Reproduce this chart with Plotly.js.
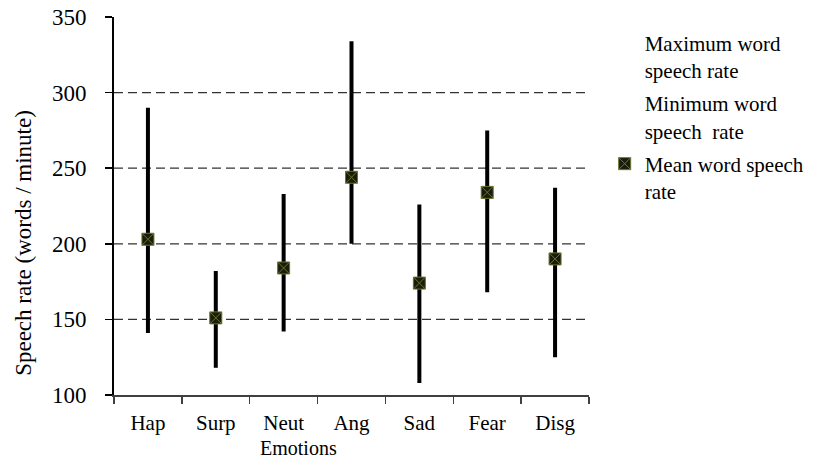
<!DOCTYPE html>
<html>
<head>
<meta charset="utf-8">
<script src="https://cdn.plot.ly/plotly-3.0.1.min.js"></script>
<style>
  html, body { margin: 0; padding: 0; background: #ffffff; }
  #chart { width: 822px; height: 460px; }
</style>
</head>
<body>
<div id="chart"></div>
<script>
// Word speech rate per emotion (words / minute)
const categories = ['Hap', 'Surp', 'Neut', 'Ang', 'Sad', 'Fear', 'Disg'];
const maxRate = [290, 182, 233, 334, 226, 275, 237];
const minRate = [141, 118, 142, 200, 108, 168, 125];
const meanRate = [203, 151, 184, 244, 174, 234, 190];

// Horizontal reference lines
const gridValues = [150, 200, 250, 300];
const yTickValues = [100, 150, 200, 250, 300, 350];

const serif = 'Liberation Serif';

// High-low span around each mean, expressed as error bar lengths
const upper = meanRate.map((m, i) => maxRate[i] - m);
const lower = meanRate.map((m, i) => m - minRate[i]);

const hidden = { size: 1, color: 'rgba(0,0,0,0)', line: { width: 0, color: 'rgba(0,0,0,0)' } };

const traces = [
  {
    type: 'scatter', mode: 'markers',
    name: 'Maximum word<br>speech rate',
    legendgroup: 'max',
    x: categories, y: maxRate,
    marker: hidden,
    hoverinfo: 'skip'
  },
  {
    type: 'scatter', mode: 'markers',
    name: 'Minimum word<br>speech  rate',
    legendgroup: 'min',
    x: categories, y: minRate,
    marker: hidden,
    hoverinfo: 'skip'
  },
  {
    type: 'scatter', mode: 'markers',
    name: 'Mean word speech<br>rate',
    legendgroup: 'mean',
    x: categories, y: meanRate,
    marker: {
      symbol: 'square-x', size: 12, color: '#1a1d0c',
      line: { color: '#66762c', width: 1 }
    },
    error_y: {
      type: 'data', symmetric: false,
      array: upper, arrayminus: lower,
      color: '#000000', thickness: 4, width: 0
    }
  }
];

const layout = {
  width: 822, height: 460,
  margin: { l: 114, r: 229, t: 17, b: 65 },
  paper_bgcolor: '#ffffff', plot_bgcolor: '#ffffff',
  font: { family: serif, size: 22, color: '#000000' },
  showlegend: true,
  legend: {
    x: 1.033, y: 0.986, xanchor: 'left', yanchor: 'top',
    font: { family: serif, size: 21, color: '#000000' },
    valign: 'top', tracegroupgap: 3,
    bgcolor: 'rgba(0,0,0,0)'
  },
  xaxis: {
    type: 'category',
    categoryorder: 'array', categoryarray: categories,
    range: [-0.5, categories.length - 0.5],
    showgrid: false, zeroline: false,
    showline: true, linecolor: '#404040', linewidth: 1.5,
    ticks: 'outside', tickson: 'boundaries', ticklen: 7,
    tickcolor: '#404040', tickwidth: 1.5,
    ticklabelstandoff: 8,
    tickfont: { family: serif, size: 21, color: '#000000' }
  },
  yaxis: {
    range: [100, 350],
    tickmode: 'array', tickvals: yTickValues,
    showgrid: false, zeroline: false,
    showline: true, linecolor: '#000000', linewidth: 2,
    ticks: 'outside', ticklen: 7, tickcolor: '#000000', tickwidth: 1.5,
    ticklabelstandoff: 14,
    tickfont: { family: serif, size: 23, color: '#000000' }
  },
  shapes: gridValues.map(v => ({
    type: 'line', layer: 'below',
    xref: 'paper', x0: 0, x1: 1,
    yref: 'y', y0: v, y1: v,
    line: { color: '#333333', width: 1.2, dash: '9px,5px' }
  })),
  annotations: [
    {
      text: 'Speech rate (words / minute)',
      xref: 'paper', yref: 'paper',
      x: -0.192, y: 0.402, xanchor: 'center', yanchor: 'middle',
      textangle: -90, showarrow: false,
      font: { family: serif, size: 23, color: '#000000' }
    },
    {
      text: 'Emotions',
      xref: 'paper', yref: 'paper',
      x: 0.388, y: -0.140, xanchor: 'center', yanchor: 'middle',
      showarrow: false,
      font: { family: serif, size: 20, color: '#000000' }
    }
  ]
};

Plotly.newPlot('chart', traces, layout, { displayModeBar: false, staticPlot: true });
</script>
</body>
</html>
